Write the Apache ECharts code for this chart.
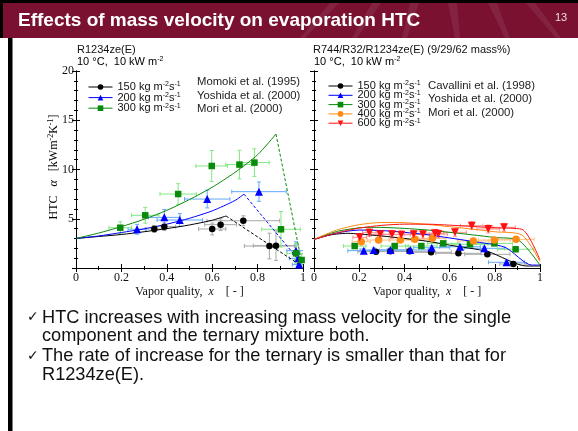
<!DOCTYPE html>
<html>
<head>
<meta charset="utf-8">
<script src="https://cdn.jsdelivr.net/npm/echarts@6/dist/echarts.min.js"></script>
<style>
  html, body { margin: 0; padding: 0; background: #fff; }
  #chart { width: 578px; height: 431px; }
</style>
</head>
<body>
<div id="chart"></div>
<script>
// ---- data ----
// measured points: [x, HTC, x error, HTC error]
const ze150 = [[0.345, 3.96, 0.04, 0.35], [0.389, 4.2, 0.05, 0.4], [0.60, 3.96, 0.06, 0.6], [0.637, 4.4, 0.07, 0.6], [0.737, 4.8, 0.16, 0.5], [0.852, 2.23, 0.11, 1.3], [0.881, 2.27, 0.1, 1.5]];
const ze200 = [[0.269, 3.93, 0.04, 0.5], [0.389, 5.14, 0.07, 0.8], [0.457, 4.87, 0.1, 0.65], [0.578, 7.0, 0.1, 0.9], [0.806, 7.75, 0.12, 0.98], [0.969, 1.76, 0.04, 0.9], [0.98, 0.98, 0.04, 0.7], [0.983, 0.35, 0.03, 0.4]];
const ze300 = [[0.195, 4.09, 0.05, 0.6], [0.305, 5.35, 0.06, 0.8], [0.45, 7.51, 0.08, 1.05], [0.598, 10.36, 0.07, 1.57], [0.72, 10.5, 0.06, 1.45], [0.786, 10.7, 0.065, 1.4], [0.903, 3.93, 0.085, 1.8], [0.969, 1.49, 0.04, 1.0], [0.994, 0.81, 0.03, 0.6]];

// calculated curves (solid part and dashed dry-out part)
const ze150Calc = [[0, 3.0], [0.1, 3.2], [0.2, 3.4], [0.3, 3.68], [0.4, 4.0], [0.5, 4.37], [0.6, 4.85], [0.661, 5.28]];
const ze150Dry = [[0.661, 5.28], [0.987, 0.3]];
const ze200Calc = [[0, 3.0], [0.1, 3.25], [0.2, 3.6], [0.3, 3.98], [0.4, 4.45], [0.5, 5.05], [0.6, 5.8], [0.7, 6.85], [0.74, 7.5]];
const ze200Dry = [[0.74, 7.5], [0.994, 0.45]];
const ze300Calc = [[0, 3.0], [0.1, 3.55], [0.2, 4.2], [0.3, 4.95], [0.4, 5.85], [0.5, 6.95], [0.6, 8.2], [0.7, 9.7], [0.8, 11.5], [0.881, 13.6]];
const ze300Dry = [[0.881, 13.6], [0.994, 0.6]];

const tm150 = [[0.274, 1.66, 0.08, 0.2], [0.338, 1.69, 0.09, 0.2], [0.423, 1.69, 0.09, 0.2], [0.518, 1.59, 0.09, 0.2], [0.639, 1.49, 0.1, 0.2], [0.767, 1.39, 0.1, 0.2], [0.882, 0.41, 0.06, 0.15]];
const tm200 = [[0.22, 1.76, 0.07, 0.2], [0.264, 1.83, 0.06, 0.2], [0.338, 1.83, 0.07, 0.2], [0.426, 1.83, 0.08, 0.2], [0.521, 2.06, 0.08, 0.2], [0.646, 2.16, 0.09, 0.2], [0.754, 2.0, 0.09, 0.2], [0.852, 0.58, 0.08, 0.2]];
const tm300 = [[0.18, 2.23, 0.05, 0.2], [0.357, 2.23, 0.06, 0.2], [0.475, 2.23, 0.07, 0.2], [0.572, 2.5, 0.07, 0.2], [0.69, 2.4, 0.08, 0.2], [0.798, 2.5, 0.08, 0.2], [0.892, 1.9, 0.08, 0.2]];
const tm400 = [[0.209, 2.67, 0.04, 0.25], [0.286, 2.84, 0.05, 0.25], [0.382, 2.84, 0.05, 0.25], [0.446, 2.91, 0.06, 0.25], [0.524, 3.01, 0.06, 0.25], [0.705, 2.74, 0.07, 0.25], [0.798, 2.84, 0.07, 0.25], [0.894, 2.91, 0.08, 0.25]];
const tm600 = [[0.202, 3.11, 0.03, 0.4], [0.245, 3.59, 0.03, 0.4], [0.293, 3.42, 0.04, 0.4], [0.345, 3.42, 0.04, 0.4], [0.386, 3.38, 0.04, 0.4], [0.441, 3.42, 0.04, 0.4], [0.482, 3.42, 0.04, 0.4], [0.535, 3.52, 0.04, 0.4], [0.55, 3.45, 0.04, 0.4], [0.624, 3.62, 0.05, 0.4], [0.698, 4.3, 0.05, 0.4], [0.771, 3.96, 0.05, 0.4], [0.841, 4.13, 0.05, 0.4]];

const tm150Calc = [[0, 2.9], [0.05, 3.25], [0.1, 3.45], [0.15, 3.52], [0.2, 3.45], [0.3, 3.25], [0.4, 3.0], [0.5, 2.72], [0.6, 2.32], [0.77, 1.66], [0.94, 0.2], [1, 0.2]];
const tm200Calc = [[0, 2.9], [0.1, 3.55], [0.2, 3.85], [0.3, 3.8], [0.4, 3.62], [0.5, 3.38], [0.6, 3.05], [0.7, 2.7], [0.845, 2.1], [0.963, 0.3], [1, 0.3]];
const tm300Calc = [[0, 2.9], [0.1, 3.7], [0.2, 4.08], [0.25, 4.13], [0.3, 4.12], [0.4, 4.02], [0.5, 3.86], [0.6, 3.62], [0.7, 3.37], [0.8, 3.1], [0.904, 2.84], [1, 0.3]];
const tm400Calc = [[0, 2.9], [0.1, 3.85], [0.2, 4.4], [0.3, 4.62], [0.4, 4.6], [0.5, 4.42], [0.6, 4.2], [0.7, 3.95], [0.8, 3.68], [0.92, 3.35], [1, 0.64]];
const tm600Calc = [[0, 2.9], [0.1, 3.55], [0.2, 4.05], [0.3, 4.33], [0.4, 4.45], [0.5, 4.45], [0.6, 4.35], [0.7, 4.22], [0.8, 4.08], [0.92, 3.93], [1, 0.81]];

const massFlux = ['150', '200', '300', '400', '600'];
const leftRefs = ['Momoki et al. (1995)', 'Yoshida et al. (2000)', 'Mori et al. (2000)'];
const rightRefs = ['Cavallini et al. (1998)', 'Yoshida et al. (2000)', 'Mori et al. (2000)'];
const bullets = [
  ['HTC increases with increasing mass velocity for the single', 'component and the ternary mixture both.'],
  ['The rate of increase for the ternary is smaller than that for', 'R1234ze(E).']
];

const sans = 'Liberation Sans, Arial, sans-serif';
const serif = 'Liberation Serif, Times New Roman, serif';

const colors = { '150': '#000000', '200': '#0000ff', '300': '#0a8a0a', '400': '#ff8a14', '600': '#ff1010' };
const errColors = { '150': '#a8a8a8', '200': '#62a8ff', '300': '#80e880', '400': '#ffc080', '600': '#ff9090' };
const symbols = {
  '150': { symbol: 'circle', size: 6.5, rotate: 0 },
  '200': { symbol: 'triangle', size: 8, rotate: 0 },
  '300': { symbol: 'rect', size: 6.5, rotate: 0 },
  '400': { symbol: 'circle', size: 7.5, rotate: 0 },
  '600': { symbol: 'triangle', size: 8, rotate: 180 }
};

const chart = echarts.init(document.getElementById('chart'));

function renderErr(params, api) {
  const x = api.value(0), y = api.value(1), ex = api.value(2), ey = api.value(3);
  const l = api.coord([x - ex, y]), r = api.coord([x + ex, y]);
  const t = api.coord([x, y + ey]), b = api.coord([x, y - ey]);
  const c = 2;
  const st = { stroke: api.visual('color'), lineWidth: 1 };
  const seg = (x1, y1, x2, y2) => ({ type: 'line', shape: { x1, y1, x2, y2 }, style: st });
  return {
    type: 'group',
    children: [
      seg(l[0], l[1], r[0], r[1]),
      seg(l[0], l[1] - c, l[0], l[1] + c),
      seg(r[0], r[1] - c, r[0], r[1] + c),
      seg(t[0], t[1], b[0], b[1]),
      seg(t[0] - c, t[1], t[0] + c, t[1]),
      seg(b[0] - c, b[1], b[0] + c, b[1])
    ]
  };
}

const series = [];
function addGroup(g, pts, calc, dry, ax, tag) {
  series.push({
    type: 'custom', xAxisIndex: ax, yAxisIndex: ax, data: pts, renderItem: renderErr,
    itemStyle: { color: errColors[g] }, clip: true, silent: true, z: 1, encode: { x: 0, y: 1 }
  });
  series.push({
    type: 'line', xAxisIndex: ax, yAxisIndex: ax, data: calc, showSymbol: false, smooth: 0.25,
    lineStyle: { color: colors[g], width: 1 }, z: 2, silent: true
  });
  if (dry) {
    series.push({
      type: 'line', xAxisIndex: ax, yAxisIndex: ax, data: dry, showSymbol: false,
      lineStyle: { color: colors[g], width: 1, type: [3, 2] }, z: 2, silent: true
    });
  }
  // markers only: the connecting line is made transparent, the legend gets its own line
  series.push({
    name: tag + g, type: 'line', xAxisIndex: ax, yAxisIndex: ax,
    data: pts.map(p => [p[0], p[1]]),
    symbol: symbols[g].symbol, symbolSize: symbols[g].size, symbolRotate: symbols[g].rotate,
    itemStyle: { color: colors[g] }, lineStyle: { color: 'rgba(0,0,0,0)', width: 1 }, z: 3
  });
}
addGroup('150', ze150, ze150Calc, ze150Dry, 0, 'L');
addGroup('200', ze200, ze200Calc, ze200Dry, 0, 'L');
addGroup('300', ze300, ze300Calc, ze300Dry, 0, 'L');
addGroup('150', tm150, tm150Calc, null, 2, 'R');
addGroup('200', tm200, tm200Calc, null, 2, 'R');
addGroup('300', tm300, tm300Calc, null, 2, 'R');
addGroup('400', tm400, tm400Calc, null, 2, 'R');
addGroup('600', tm600, tm600Calc, null, 2, 'R');

const richSup = {
  n: { fontFamily: sans, fontSize: 11, lineHeight: 12, color: '#111' },
  s: { fontFamily: sans, fontSize: 7, lineHeight: 7, verticalAlign: 'top', color: '#111' }
};
function legendOf(tag, list, left, top, gap) {
  return {
    orient: 'vertical', left, top, padding: 0, itemGap: gap, itemWidth: 24, itemHeight: 7,
    selectedMode: false,
    data: list.map(g => ({ name: tag + g, lineStyle: { width: 1, opacity: 1, color: colors[g] } })),
    formatter: name => '{n|' + name.slice(1) + ' kg m}{s|-2}{n|s}{s|-1}',
    textStyle: { rich: richSup }
  };
}

const serifRich = {
  n: { fontFamily: serif, fontSize: 12, lineHeight: 14, color: '#111' },
  i: { fontFamily: serif, fontSize: 12, lineHeight: 14, fontStyle: 'italic', color: '#111' },
  s: { fontFamily: serif, fontSize: 8, lineHeight: 8, verticalAlign: 'top', color: '#111' }
};

function xAxes(grid) {
  const base = {
    gridIndex: grid, type: 'value', min: 0, max: 1, interval: 0.2,
    axisLine: { show: true, lineStyle: { color: '#000', width: 1 } },
    axisTick: { show: true, inside: true, length: 4, lineStyle: { color: '#000' } },
    minorTick: { show: true, splitNumber: 2, length: 2, lineStyle: { color: '#000' } },
    splitLine: { show: false }
  };
  return [
    Object.assign({}, base, {
      position: 'bottom',
      axisLabel: { fontFamily: serif, fontSize: 12, color: '#111', margin: 4 },
      name: '{n|Vapor quality,  }{i|x}{n|    [ - ]}', nameLocation: 'middle', nameGap: 14,
      nameTextStyle: { rich: serifRich, lineHeight: 14 }
    }),
    Object.assign({}, base, { position: 'top', axisLabel: { show: false } })
  ];
}
function yAxes(grid, labels) {
  const base = {
    gridIndex: grid, type: 'value', min: 0, max: 20, interval: 5,
    axisLine: { show: true, lineStyle: { color: '#000', width: 1 } },
    axisTick: { show: true, inside: true, length: 4, lineStyle: { color: '#000' } },
    minorTick: { show: true, splitNumber: 5, length: 2, lineStyle: { color: '#000' } },
    splitLine: { show: false }
  };
  const left = Object.assign({}, base, {
    position: 'left',
    axisLabel: { show: labels, fontFamily: serif, fontSize: 12, color: '#111', margin: 2, showMinLabel: false }
  });
  return [left, Object.assign({}, base, { position: 'right', axisLabel: { show: false } })];
}

const graphic = [
  { type: 'rect', shape: { x: 0, y: 0, width: 578, height: 38 }, style: { fill: '#000' }, z: 0 },
  { type: 'rect', shape: { x: 3, y: 3, width: 575, height: 35 }, style: { fill: '#7a1131' }, z: 0 },
  { type: 'rect', shape: { x: 8, y: 38, width: 4.5, height: 393 }, style: { fill: '#000' }, z: 0 }
];
// faint rays on the title bar
[[330, 300], [372, 352], [410, 402], [448, 455], [488, 505], [526, 556]].forEach(r => {
  graphic.push({
    type: 'polygon', z: 0,
    shape: { points: [[r[0], 3], [r[0] + 9, 3], [r[1] + 5, 38], [r[1], 38]] },
    style: { fill: 'rgba(255,255,255,0.08)' }
  });
});
graphic.push(
  { type: 'text', x: 18, y: 21, z: 5, style: { text: 'Effects of mass velocity on evaporation HTC', font: 'bold 19px ' + sans, fill: '#fff', verticalAlign: 'middle', textVerticalAlign: 'middle' } },
  { type: 'text', x: 561, y: 18, z: 5, style: { text: '13', font: '11px ' + sans, fill: '#e8e0e0', align: 'center', textAlign: 'center', verticalAlign: 'middle', textVerticalAlign: 'middle' } },
  { type: 'text', x: 77, y: 50, z: 5, style: { text: 'R1234ze(E)', font: '11px ' + sans, fill: '#111', verticalAlign: 'middle', textVerticalAlign: 'middle' } },
  { type: 'text', x: 313, y: 50, z: 5, style: { text: 'R744/R32/R1234ze(E) (9/29/62 mass%)', font: '11px ' + sans, fill: '#111', verticalAlign: 'middle', textVerticalAlign: 'middle' } },
  // y-axis title of the left panel
  { type: 'text', x: 54, y: 167, rotation: Math.PI / 2, z: 5,
    style: { text: '{n|HTC   }{i|α}{n|   [kWm}{s|-2}{n|K}{s|-1}{n|]}', rich: serifRich, align: 'center', textAlign: 'center', verticalAlign: 'middle', textVerticalAlign: 'middle' } }
);
[77, 314].forEach(x => {
  graphic.push({
    type: 'text', x, y: 62, z: 5,
    style: { text: '{n|10 °C,  10 kW m}{s|-2}', rich: richSup, verticalAlign: 'middle', textVerticalAlign: 'middle' }
  });
});
const leftRows = [82, 95.5, 108.5], rightRows = [86, 99.3, 112.5];
leftRefs.forEach((t, i) => graphic.push({ type: 'text', x: 197, y: leftRows[i], z: 5, style: { text: t, font: '11.3px ' + sans, fill: '#222', verticalAlign: 'middle', textVerticalAlign: 'middle' } }));
rightRefs.forEach((t, i) => graphic.push({ type: 'text', x: 428, y: rightRows[i], z: 5, style: { text: t, font: '11.4px ' + sans, fill: '#222', verticalAlign: 'middle', textVerticalAlign: 'middle' } }));
const bulletRows = [[317.5, 336], [356, 374.5]];
bullets.forEach((b, i) => {
  graphic.push({ type: 'text', x: 27, y: bulletRows[i][0], z: 5, style: { text: '✓', font: '14px DejaVu Sans', fill: '#111', verticalAlign: 'middle', textVerticalAlign: 'middle' } });
  b.forEach((line, j) => graphic.push({ type: 'text', x: 42, y: bulletRows[i][j], z: 5, style: { text: line, font: '18.2px ' + sans, fill: '#111', verticalAlign: 'middle', textVerticalAlign: 'middle' } }));
});

const option = {
  animation: false,
  backgroundColor: '#fff',
  grid: [
    { left: 76, top: 71, width: 227, height: 197 },
    { left: 314, top: 71, width: 226, height: 197 }
  ],
  xAxis: xAxes(0).concat(xAxes(1)),
  yAxis: yAxes(0, true).concat(yAxes(1, false)),
  legend: [
    legendOf('L', ['150', '200', '300'], 88, 81, -0.9),
    legendOf('R', massFlux, 328, 80, -2.2)
  ],
  graphic,
  series
};
chart.setOption(option);
</script>
</body>
</html>
